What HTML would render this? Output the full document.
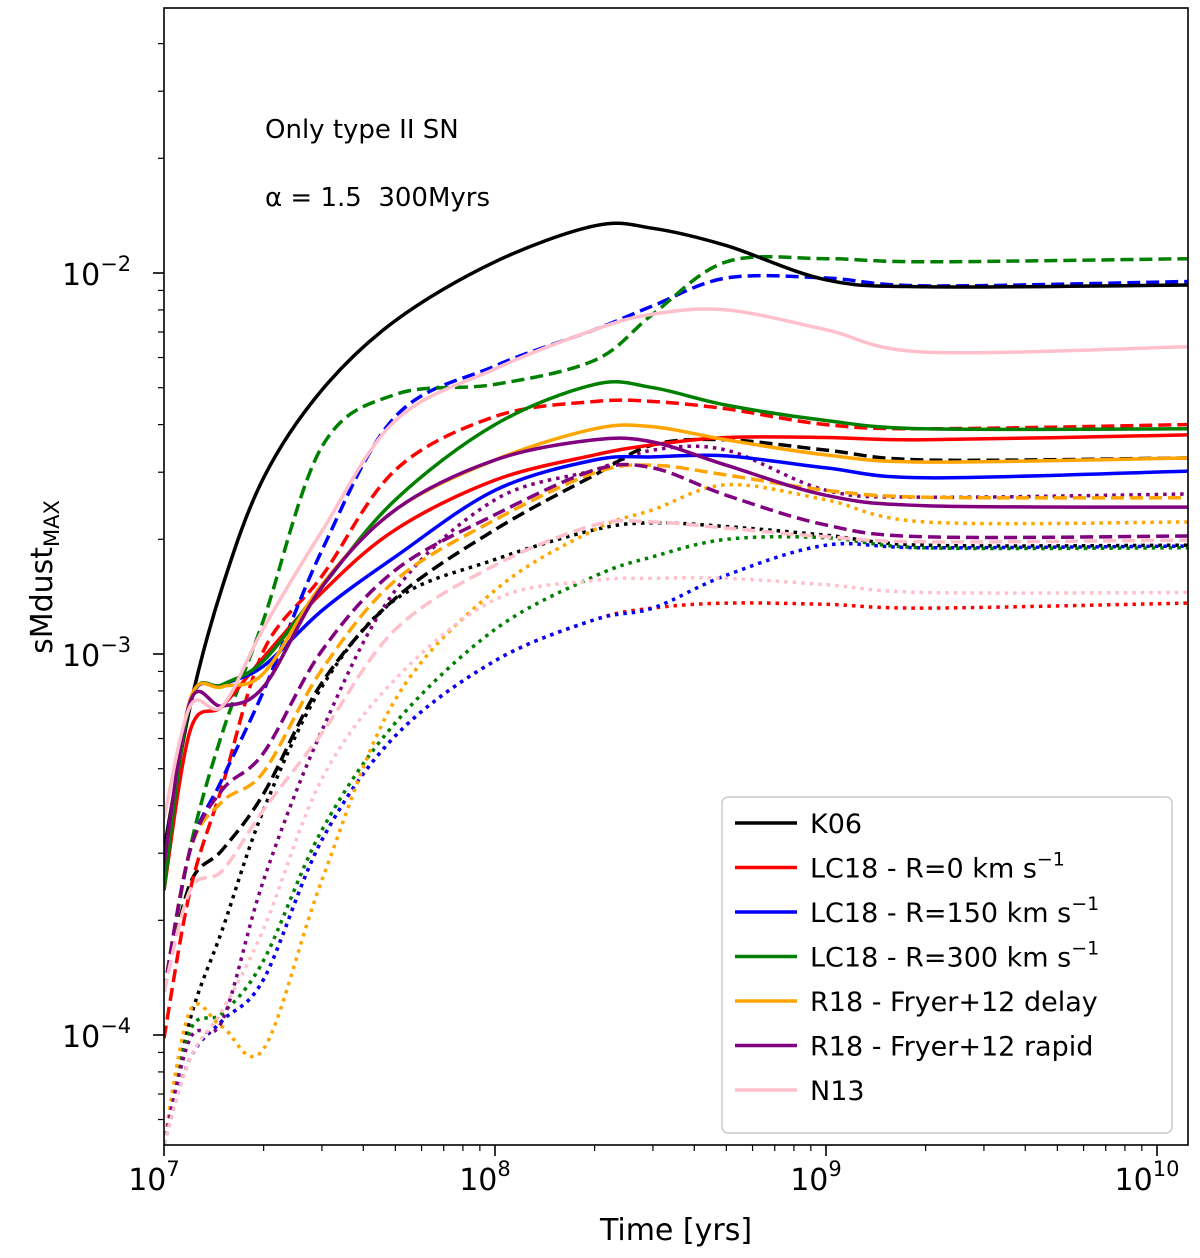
<!DOCTYPE html>
<html><head><meta charset="utf-8"><style>
body{margin:0;background:#fff}
svg{display:block;font-family:"DejaVu Sans","Liberation Sans",sans-serif}
</style></head><body>
<svg id="chart" width="1200" height="1258" viewBox="0 0 1200 1258">
<defs><clipPath id="pc"><rect x="164" y="8" width="1024" height="1137"/></clipPath></defs>
<g id="series" clip-path="url(#pc)"></g>
<rect x="164" y="8" width="1024" height="1137" fill="none" stroke="#000" stroke-width="1.6"/>
<g id="axes"></g>
<text x="265" y="138" font-size="26">Only type II SN</text>
<text x="265" y="206" font-size="26">α = 1.5&#160;&#160;300Myrs</text>
<text x="676" y="1240" font-size="30" text-anchor="middle">Time [yrs]</text>
<text transform="translate(52,577) rotate(-90)" font-size="30" text-anchor="middle">sMdust<tspan font-size="21" dy="7">MAX</tspan></text>
<g id="legend">
<rect x="722" y="797" width="450" height="336" rx="6" fill="#fff" fill-opacity="0.85" stroke="#ccc" stroke-width="1.5"/>
</g>
</svg>
<script>
const times=[1e7,1.2e7,1.5e7,2e7,3e7,5e7,1e8,2e8,3e8,5e8,1e9,2e9,1.24e10];
const legendLabels=["K06","LC18 - R=0 km s","LC18 - R=150 km s","LC18 - R=300 km s","R18 - Fryer+12 delay","R18 - Fryer+12 rapid","N13"];
const seriesColors=["#000000","#ff0000","#0000ff","#008000","#ffa500","#800080","#ffc0cb"];
const xTickValues=[1e7,1e8,1e9,1e10];
const xTickExps=["7","8","9","10"];
const yTickValues=[1e-2,1e-3,1e-4];
const yTickExps=["−2","−3","−4"];
// solid
const solidK06=[3.06e-4,7.3e-4,1.5e-3,2.9e-3,4.93e-3,7.5e-3,1.07e-2,1.33e-2,1.31e-2,1.18e-2,9.6e-3,9.2e-3,9.3e-3];
const solidR0=[2.4e-4,6.3e-4,7.3e-4,9.8e-4,1.45e-3,2.12e-3,2.86e-3,3.33e-3,3.54e-3,3.7e-3,3.7e-3,3.65e-3,3.76e-3];
const solidR150=[2.6e-4,7.5e-4,8.3e-4,9.3e-4,1.3e-3,1.8e-3,2.69e-3,3.23e-3,3.29e-3,3.31e-3,3.08e-3,2.9e-3,3.02e-3];
const solidR300=[2.4e-4,7.5e-4,8.3e-4,9.6e-4,1.5e-3,2.54e-3,4.0e-3,5.1e-3,5.0e-3,4.5e-3,4.1e-3,3.9e-3,3.9e-3];
const solidDelay=[2.8e-4,7.6e-4,8.2e-4,8.9e-4,1.52e-3,2.39e-3,3.23e-3,3.9e-3,3.95e-3,3.65e-3,3.33e-3,3.19e-3,3.27e-3];
const solidRapid=[2.8e-4,7.5e-4,7.3e-4,8.2e-4,1.5e-3,2.39e-3,3.23e-3,3.65e-3,3.6e-3,3.13e-3,2.61e-3,2.45e-3,2.43e-3];
const solidN13=[3.7e-4,7.3e-4,7.3e-4,1.17e-3,2.1e-3,4.1e-3,5.6e-3,7.1e-3,7.8e-3,8.0e-3,7.1e-3,6.2e-3,6.4e-3];
// dashed
const dashK06=[1.3e-4,2.5e-4,3.06e-4,4.3e-4,8.4e-4,1.4e-3,2.12e-3,2.95e-3,3.54e-3,3.65e-3,3.43e-3,3.23e-3,3.27e-3];
const dashR0=[9.8e-5,2.4e-4,4.5e-4,1.02e-3,1.6e-3,3.04e-3,4.2e-3,4.6e-3,4.6e-3,4.4e-3,4.0e-3,3.9e-3,4.0e-3];
const dashR150=[1.3e-4,3.06e-4,4.7e-4,8.0e-4,1.87e-3,4.2e-3,5.7e-3,7.1e-3,8.2e-3,9.7e-3,9.7e-3,9.25e-3,9.5e-3];
const dashR300=[1.3e-4,3.1e-4,6.2e-4,1.23e-3,3.5e-3,4.8e-3,5.1e-3,5.9e-3,7.8e-3,1.07e-2,1.09e-2,1.07e-2,1.09e-2];
const dashDelay=[1.3e-4,3.06e-4,4.1e-4,4.9e-4,9.1e-4,1.56e-3,2.25e-3,2.99e-3,3.13e-3,2.95e-3,2.69e-3,2.58e-3,2.57e-3];
const dashRapid=[1.3e-4,3.06e-4,4.4e-4,5.5e-4,1.02e-3,1.66e-3,2.32e-3,3.04e-3,3.08e-3,2.61e-3,2.18e-3,2.03e-3,2.04e-3];
const dashN13=[1.3e-4,2.4e-4,2.7e-4,3.9e-4,6.2e-4,1.16e-3,1.71e-3,2.18e-3,2.22e-3,2.14e-3,2.03e-3,1.97e-3,1.99e-3];
// dotted
const dotK06=[5.2e-5,1.1e-4,1.89e-4,3.9e-4,8.2e-4,1.39e-3,1.77e-3,2.12e-3,2.21e-3,2.16e-3,2.05e-3,1.93e-3,1.93e-3];
const dotR0=[5.2e-5,8.7e-5,1.09e-4,1.4e-4,3.25e-4,6.1e-4,9.6e-4,1.23e-3,1.32e-3,1.36e-3,1.35e-3,1.32e-3,1.36e-3];
const dotR150=[5.2e-5,8.7e-5,1.09e-4,1.4e-4,3.25e-4,6.1e-4,9.6e-4,1.23e-3,1.32e-3,1.61e-3,1.93e-3,1.9e-3,1.92e-3];
const dotR300=[5.2e-5,1.03e-4,1.14e-4,1.57e-4,3.45e-4,6.6e-4,1.16e-3,1.6e-3,1.8e-3,2.0e-3,2.02e-3,1.9e-3,1.9e-3];
const dotDelay=[5.2e-5,1.16e-4,1.05e-4,9.2e-5,2.55e-4,7.6e-4,1.47e-3,2.12e-3,2.39e-3,2.78e-3,2.54e-3,2.22e-3,2.22e-3];
const dotRapid=[5.2e-5,9.8e-5,1.09e-4,2.55e-4,6.3e-4,1.47e-3,2.54e-3,3.04e-3,3.43e-3,3.43e-3,2.69e-3,2.58e-3,2.63e-3];
const dotN13=[5.2e-5,8.7e-5,1.16e-4,1.9e-4,4.7e-4,8.6e-4,1.39e-3,1.56e-3,1.58e-3,1.58e-3,1.52e-3,1.45e-3,1.45e-3];

const NS="http://www.w3.org/2000/svg";
const X0=164,XD=331,Y0=273,YD=381;
function xs(t){return X0+(Math.log10(t)-7)*XD;}
function ys(v){return Y0+(-2-Math.log10(v))*YD;}
function mk(tag,attrs,parent){const e=document.createElementNS(NS,tag);for(const k in attrs)e.setAttribute(k,attrs[k]);parent.appendChild(e);return e;}
function pathD(vals){
  const p=times.map((t,i)=>[xs(t),ys(vals[i])]);
  let d="M"+p[0][0].toFixed(1)+","+p[0][1].toFixed(1);
  for(let i=0;i<p.length-1;i++){
    const a=p[Math.max(i-1,0)],b=p[i],c=p[i+1],e=p[Math.min(i+2,p.length-1)];
    const c1=[b[0]+(c[0]-a[0])/6,b[1]+(c[1]-a[1])/6],c2=[c[0]-(e[0]-b[0])/6,c[1]-(e[1]-b[1])/6];
    d+="C"+c1[0].toFixed(1)+","+c1[1].toFixed(1)+" "+c2[0].toFixed(1)+","+c2[1].toFixed(1)+" "+c[0].toFixed(1)+","+c[1].toFixed(1);
  }
  return d;
}
const sg=document.getElementById('series');
const styles={dotted:"3.5,5",dashed:"13,6",solid:"none"};
const groups=[
 ["dotted",[dotK06,dotR0,dotR150,dotR300,dotDelay,dotRapid,dotN13]],
 ["dashed",[dashK06,dashR0,dashR150,dashR300,dashDelay,dashRapid,dashN13]],
 ["solid",[solidK06,solidR0,solidR150,solidR300,solidDelay,solidRapid,solidN13]]
];
const keys=["k06","lc18-r0","lc18-r150","lc18-r300","r18-delay","r18-rapid","n13"];
groups.forEach(([st,arr])=>{arr.forEach((vals,i)=>{
  const el=mk('path',{d:pathD(vals),fill:"none",stroke:seriesColors[i],"stroke-width":3.5,"stroke-dasharray":styles[st]},sg);
  
  
});});
const ax=document.getElementById('axes');
xTickValues.forEach((t,i)=>{
  const x=xs(t);
  const tk=mk('line',{x1:x,x2:x,y1:1145,y2:1156,stroke:"#000","stroke-width":1.6},ax);
  
  
  const tx=mk('text',{x:x-10,y:1190,"font-size":30,"text-anchor":"middle"},ax);
  
  
  tx.innerHTML='10<tspan font-size="21" dy="-14">'+xTickExps[i]+'</tspan>';
});
for(let dec=7;dec<=10;dec++){for(let m=2;m<=9;m++){const t=m*Math.pow(10,dec);const x=xs(t);if(x>1188)continue;
  const mt=mk('line',{x1:x,x2:x,y1:1145,y2:1151,stroke:"#000","stroke-width":1.2},ax);
  
  }}
yTickValues.forEach((v,i)=>{
  const y=ys(v);
  const tk=mk('line',{x1:153,x2:164,y1:y,y2:y,stroke:"#000","stroke-width":1.6},ax);
  
  
  const tx=mk('text',{x:62,y:y+12,"font-size":30},ax);
  
  
  tx.innerHTML='10<tspan font-size="21" dy="-14">'+yTickExps[i]+'</tspan>';
});
for(let dec=-5;dec<=-2;dec++){for(let m=2;m<=9;m++){const v=m*Math.pow(10,dec);const y=ys(v);if(y<8||y>1145)continue;
  const mt=mk('line',{x1:158,x2:164,y1:y,y2:y,stroke:"#000","stroke-width":1.2},ax);
  
  }}
const lg=document.getElementById('legend');
legendLabels.forEach((lab,i)=>{
  const y=823+i*44.5;
  const ln=mk('line',{x1:735,x2:797,y1:y,y2:y,stroke:seriesColors[i],"stroke-width":3.5},lg);
  
  
  const tx=mk('text',{x:810,y:y+10,"font-size":27},lg);
  
  
  tx.innerHTML=(i>=1&&i<=3)?lab+'<tspan font-size="19" dy="-12">−1</tspan>':lab;
});
</script>
</body></html>
